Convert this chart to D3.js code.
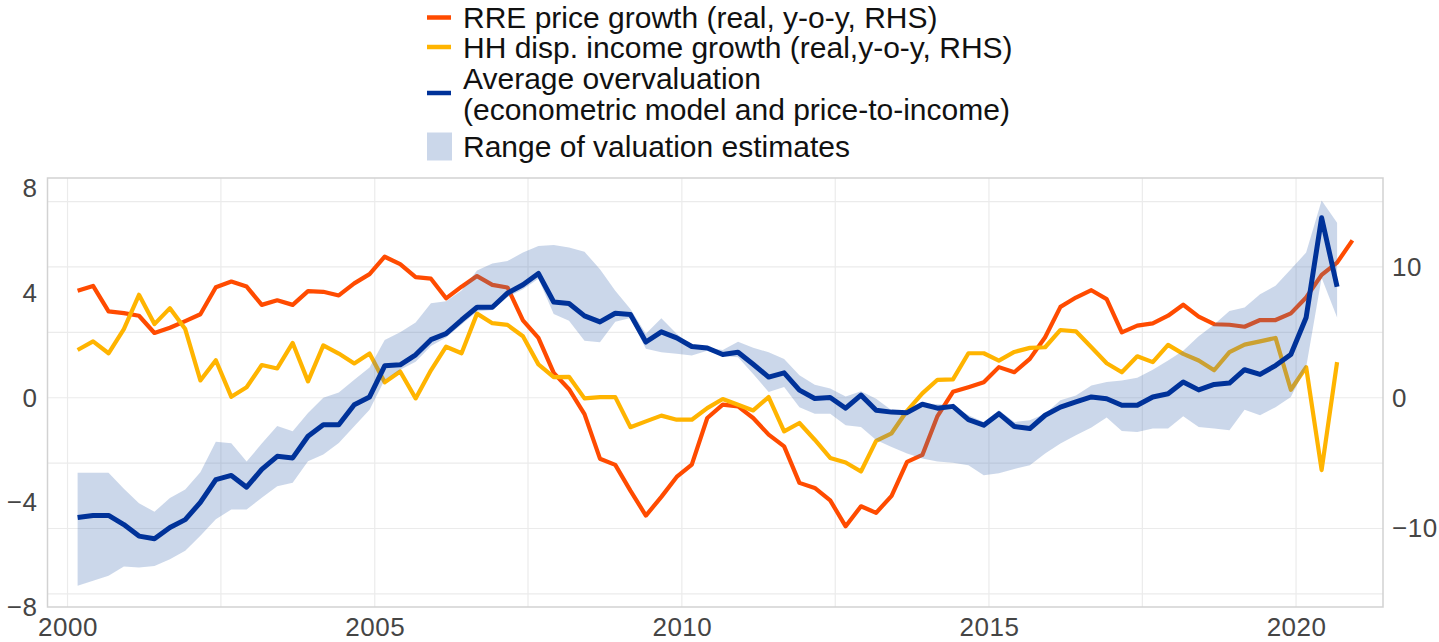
<!DOCTYPE html>
<html>
<head>
<meta charset="utf-8">
<script src="https://cdn.jsdelivr.net/npm/d3@7"></script>
<style>
body { margin: 0; background: #fff; }
text { font-family: "Liberation Sans", Arial, sans-serif; }
</style>
</head>
<body>
<div id="chart"></div>
<script>
// quarterly observations (plotted at the last month of the quarter)
var quarters = [
    "2000-03", "2000-06", "2000-09", "2000-12", "2001-03", "2001-06", "2001-09", "2001-12",
    "2002-03", "2002-06", "2002-09", "2002-12", "2003-03", "2003-06", "2003-09", "2003-12",
    "2004-03", "2004-06", "2004-09", "2004-12", "2005-03", "2005-06", "2005-09", "2005-12",
    "2006-03", "2006-06", "2006-09", "2006-12", "2007-03", "2007-06", "2007-09", "2007-12",
    "2008-03", "2008-06", "2008-09", "2008-12", "2009-03", "2009-06", "2009-09", "2009-12",
    "2010-03", "2010-06", "2010-09", "2010-12", "2011-03", "2011-06", "2011-09", "2011-12",
    "2012-03", "2012-06", "2012-09", "2012-12", "2013-03", "2013-06", "2013-09", "2013-12",
    "2014-03", "2014-06", "2014-09", "2014-12", "2015-03", "2015-06", "2015-09", "2015-12",
    "2016-03", "2016-06", "2016-09", "2016-12", "2017-03", "2017-06", "2017-09", "2017-12",
    "2018-03", "2018-06", "2018-09", "2018-12", "2019-03", "2019-06", "2019-09", "2019-12",
    "2020-03", "2020-06", "2020-09", "2020-12"
];

// RRE price growth (real, y-o-y, RHS), 2000Q1-2020Q4
var rrePrice = [
    8.17, 8.55, 6.6, 6.47, 6.27, 4.95, 5.35, 5.86, 6.38, 8.45, 8.88, 8.5,
    7.1, 7.45, 7.1, 8.15, 8.1, 7.82, 8.74, 9.45, 10.78, 10.22, 9.22, 9.1,
    7.6, 8.49, 9.3, 8.63, 8.43, 5.92, 4.58, 1.9, 0.65, -1.25, -4.66, -5.13,
    -7.1, -9.01, -7.58, -6.06, -5.11, -1.55, -0.53, -0.66, -1.55, -2.82, -3.72, -6.51,
    -6.9, -7.85, -9.83, -8.3, -8.8, -7.5, -4.9, -4.37, -1.4, 0.45, 0.81, 1.19,
    2.34, 1.95, 2.97, 4.62, 6.95, 7.66, 8.22, 7.54, 5.0, 5.51, 5.69, 6.27,
    7.11, 6.2, 5.62, 5.58, 5.43, 5.94, 5.94, 6.45, 7.66, 9.39, 10.33, 12.03
];

// HH disposable income growth (real, y-o-y, RHS), 2000Q1-2020Q3
var hhIncome = [
    3.65, 4.31, 3.4, 5.25, 7.87, 5.63, 6.85, 5.25, 1.32, 2.87, 0.07, 0.8,
    2.5, 2.24, 4.19, 1.25, 4.0, 3.38, 2.62, 3.38, 1.18, 2.0, -0.05, 2.1,
    3.9, 3.4, 6.43, 5.7, 5.57, 4.7, 2.55, 1.58, 1.6, -0.05, 0.05, 0.05,
    -2.25, -1.81, -1.37, -1.68, -1.68, -0.79, -0.1, -0.53, -0.97, 0.05, -2.57, -1.93,
    -3.21, -4.6, -4.95, -5.64, -3.3, -2.72, -1.0, 0.33, 1.37, 1.4, 3.4, 3.4,
    2.84, 3.5, 3.81, 3.86, 5.18, 5.08, 3.86, 2.64, 1.95, 3.17, 2.72, 4.04,
    3.35, 2.85, 2.1, 3.48, 4.06, 4.31, 4.57, 0.61, 2.34, -5.53, 2.72
];

// average overvaluation (LHS), 2000Q1-2020Q3
var avgOver = [
    -4.58, -4.5, -4.5, -4.85, -5.29, -5.39, -4.96, -4.66, -4.0, -3.13, -2.97, -3.42,
    -2.74, -2.24, -2.3, -1.47, -1.03, -1.03, -0.27, 0.03, 1.22, 1.26, 1.64, 2.22,
    2.45, 2.97, 3.46, 3.46, 4.0, 4.32, 4.75, 3.66, 3.6, 3.13, 2.9, 3.23,
    3.18, 2.13, 2.52, 2.29, 1.96, 1.9, 1.65, 1.74, 1.28, 0.79, 0.95, 0.29,
    -0.03, 0.01, -0.4, 0.1, -0.48, -0.55, -0.57, -0.25, -0.4, -0.33, -0.84, -1.05,
    -0.61, -1.1, -1.18, -0.67, -0.36, -0.16, 0.03, -0.04, -0.29, -0.29, 0.03, 0.15,
    0.6, 0.3, 0.51, 0.56, 1.07, 0.89, 1.23, 1.65, 3.07, 6.88, 4.24
];

// range of valuation estimates (LHS)
var rangeHigh = [
    -2.87, -2.87, -2.87, -3.48, -4.03, -4.36, -3.83, -3.51, -2.85, -1.68, -1.74, -2.44,
    -1.75, -1.08, -1.28, -0.58, 0.0, 0.2, 0.69, 1.16, 2.21, 2.5, 2.88, 3.61,
    3.69, 4.1, 4.86, 5.13, 5.23, 5.55, 5.8, 5.84, 5.74, 5.58, 4.91, 4.09,
    3.39, 2.45, 3.04, 2.45, 2.0, 1.91, 1.82, 2.14, 1.91, 1.74, 1.48, 0.86,
    0.5, 0.35, 0.05, 0.25, -0.04, -0.48, -0.55, -0.2, -0.25, -0.29, -0.67, -0.93,
    -0.48, -0.93, -0.86, -0.61, -0.1, 0.09, 0.47, 0.6, 0.66, 0.76, 1.07, 1.42,
    1.8, 2.35, 2.8, 3.32, 3.45, 3.96, 4.28, 4.91, 5.55, 7.54, 6.69
];
var rangeLow = [
    -7.19, -7.0, -6.81, -6.45, -6.49, -6.43, -6.17, -5.85, -5.28, -4.65, -4.27, -4.27,
    -3.82, -3.38, -3.25, -2.43, -2.17, -1.73, -1.09, -0.46, 0.69, 1.07, 1.38, 1.98,
    2.3, 2.8, 3.3, 3.35, 3.85, 4.15, 4.55, 3.2, 2.94, 2.18, 2.12, 2.9,
    3.05, 1.87, 1.74, 1.68, 1.61, 1.8, 1.6, 1.55, 0.91, 0.22, 0.41, -0.36,
    -0.61, -0.61, -1.05, -1.12, -1.62, -1.88, -2.13, -2.32, -2.44, -2.49, -2.58, -2.96,
    -2.89, -2.72, -2.58, -2.13, -1.75, -1.43, -1.14, -0.76, -1.27, -1.31, -1.18, -1.18,
    -0.71, -1.12, -1.18, -1.24, -0.46, -0.67, -0.36, 0.03, 1.17, 4.59, 3.07
];

var leftTicks = [-8, -4, 0, 4, 8];
var rightTicks = [-10, 0, 10];
var rightGrid = [-15, -10, -5, 0, 5, 10, 15];
var yearTicks = ["2000", "2005", "2010", "2015", "2020"];
var gridDates = ["2000-01", "2002-07", "2005-01", "2007-07", "2010-01", "2012-07", "2015-01", "2017-07", "2020-01"];

var legendLabels = [
    ["RRE price growth (real, y-o-y, RHS)"],
    ["HH disp. income growth (real,y-o-y, RHS)"],
    ["Average overvaluation", "(econometric model and price-to-income)"],
    ["Range of valuation estimates"]
];

var colRed = "#ff4b00", colYellow = "#ffb400", colBlue = "#003299",
    bandFill = "rgba(70,110,180,0.28)";

//----------layout----------
var W = 1439, H = 642;
var plot = { left: 47.5, right: 1383, top: 178, bottom: 607 };
var parseMonth = d3.timeParse("%Y-%m");
var parseYear = d3.timeParse("%Y");

var x = d3.scaleTime()
    .domain([new Date(1999, 8, 4), new Date(2021, 5, 1)])
    .range([plot.left, plot.right]);
var yL = d3.scaleLinear()
    .domain([-8, 8.4])
    .range([plot.bottom, plot.top]);
var yR = d3.scaleLinear()
    .domain([-16, 16.8])
    .range([plot.bottom, plot.top]);

var dates = quarters.map(parseMonth);

var svg = d3.select("#chart").append("svg")
    .attr("width", W)
    .attr("height", H);

// grid
svg.append("g").selectAll("line.h")
    .data(rightGrid)
    .enter().append("line")
    .attr("x1", plot.left).attr("x2", plot.right)
    .attr("y1", function (d) { return yR(d); })
    .attr("y2", function (d) { return yR(d); })
    .attr("stroke", "#ebebeb").attr("stroke-width", 1.2);
svg.append("g").selectAll("line.v")
    .data(gridDates.map(parseMonth))
    .enter().append("line")
    .attr("x1", function (d) { return x(d); })
    .attr("x2", function (d) { return x(d); })
    .attr("y1", plot.top).attr("y2", plot.bottom)
    .attr("stroke", "#ebebeb").attr("stroke-width", 1.2);

// frame
svg.append("rect")
    .attr("x", plot.left).attr("y", plot.top)
    .attr("width", plot.right - plot.left)
    .attr("height", plot.bottom - plot.top)
    .attr("fill", "none")
    .attr("stroke", "#d2d2d2").attr("stroke-width", 1.5);

//----------series----------
var lineR = d3.line()
    .x(function (d, i) { return x(dates[i]); })
    .y(function (d) { return yR(d); });
var lineL = d3.line()
    .x(function (d, i) { return x(dates[i]); })
    .y(function (d) { return yL(d); });
var band = d3.area()
    .x(function (d, i) { return x(dates[i]); })
    .y0(function (d, i) { return yL(rangeLow[i]); })
    .y1(function (d, i) { return yL(rangeHigh[i]); });

svg.append("path").datum(rrePrice)
    .attr("d", lineR)
    .attr("fill", "none").attr("stroke", colRed)
    .attr("stroke-width", 4.2).attr("stroke-linejoin", "round");
svg.append("path").datum(hhIncome)
    .attr("d", lineR)
    .attr("fill", "none").attr("stroke", colYellow)
    .attr("stroke-width", 4.2).attr("stroke-linejoin", "round");
svg.append("path").datum(rangeHigh)
    .attr("d", band)
    .attr("fill", bandFill);
svg.append("path").datum(avgOver)
    .attr("d", lineL)
    .attr("fill", "none").attr("stroke", colBlue)
    .attr("stroke-width", 5).attr("stroke-linejoin", "round");

//----------axes----------
function styleAxis(g) {
    g.select(".domain").remove();
    g.selectAll("text")
        .attr("fill", "#454545")
        .style("font-size", "26px")
        .style("letter-spacing", "0.5px");
}
svg.append("g")
    .attr("transform", "translate(" + plot.left + ",0)")
    .call(d3.axisLeft(yL).tickValues(leftTicks).tickSize(0).tickPadding(10).tickFormat(d3.format("d")))
    .call(styleAxis);
svg.append("g")
    .attr("transform", "translate(" + plot.right + ",0)")
    .call(d3.axisRight(yR).tickValues(rightTicks).tickSize(0).tickPadding(9).tickFormat(d3.format("d")))
    .call(styleAxis);
svg.append("g")
    .attr("transform", "translate(0," + plot.bottom + ")")
    .call(d3.axisBottom(x).tickValues(yearTicks.map(parseYear)).tickSize(0).tickPadding(11).tickFormat(d3.timeFormat("%Y")))
    .call(styleAxis);

//----------legend----------
var legend = svg.append("g").attr("class", "legend");
var legendColors = [colRed, colYellow, colBlue];
var rowY = [17.5, 47, 78, 146.5];
legendLabels.forEach(function (lines, i) {
    var yc = rowY[i];
    if (i < 3) {
        var ly = lines.length > 1 ? yc + 15 : yc;
        legend.append("line")
            .attr("x1", 427).attr("x2", 451)
            .attr("y1", ly).attr("y2", ly)
            .attr("stroke", legendColors[i]).attr("stroke-width", 4.5);
    } else {
        legend.append("rect")
            .attr("x", 427).attr("y", yc - 14)
            .attr("width", 25).attr("height", 28)
            .attr("fill", bandFill);
    }
    lines.forEach(function (t, j) {
        legend.append("text")
            .attr("x", 463)
            .attr("y", yc + j * 31)
            .attr("dy", "0.36em")
            .attr("fill", "#111")
            .style("font-size", "30px")
            .text(t);
    });
});
</script>
</body>
</html>
